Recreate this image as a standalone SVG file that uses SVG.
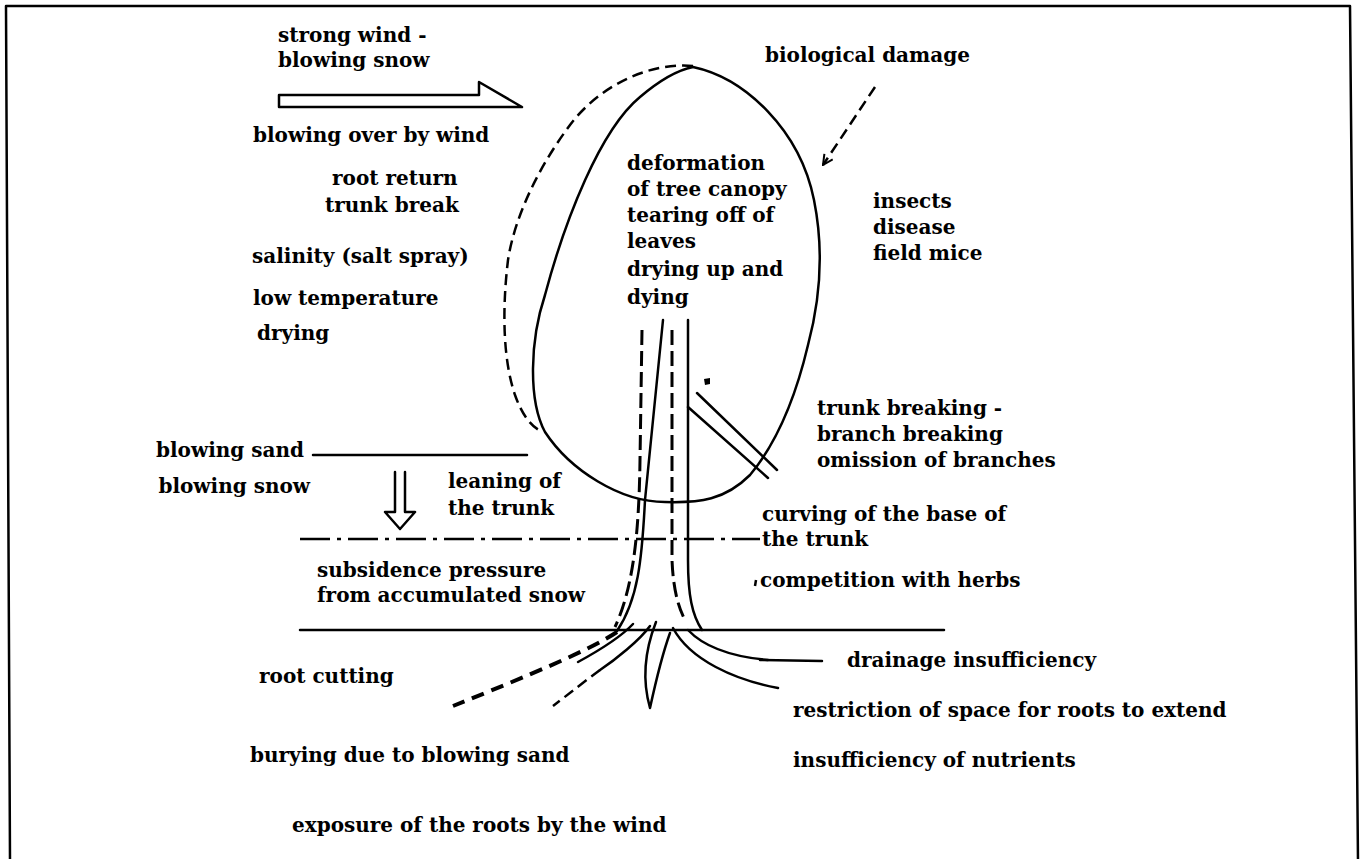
<svg xmlns="http://www.w3.org/2000/svg" width="1362" height="859" viewBox="0 0 1362 859">
  <defs>
    <style>
      text { font-family: "DejaVu Serif", "Liberation Serif", serif; font-weight: bold; font-size: 20px; fill: #000; }
      .ln { fill: none; stroke: #000; stroke-width: 2.5; stroke-linecap: round; stroke-linejoin: round; }
      .dash { stroke-dasharray: 11 6; stroke-linecap: butt; }
      .tdash { stroke-dasharray: 15 6; stroke-width: 3; stroke-linecap: butt; }
      .dashdot { stroke-dasharray: 30 7 4 7; stroke-linecap: butt; }
      .rootdash { stroke-dasharray: 13 8; stroke-width: 4; stroke-linecap: butt; }
    </style>
    <marker id="vhead" viewBox="0 0 12 12" refX="11" refY="6" markerWidth="12" markerHeight="12" markerUnits="userSpaceOnUse" orient="auto">
      <path d="M1,1 L11,6 L1,11" fill="none" stroke="#000" stroke-width="2"/>
    </marker>
  </defs>

  <rect width="1362" height="859" fill="#fff"/>

  <!-- frame -->
  <path class="ln" d="M10,862 L6,6 L1350,6 L1358,862" stroke-width="3"/>

  <!-- tree: canopy outlines -->
  <g id="tree">
    <path id="canopy" class="ln" d="M693,67 C745,78 800,130 814,200 C824,250 820,300 808,345 C795,400 775,445 750,475 C725,500 700,503 665,502 C620,502 570,470 545,432 C528,400 530,340 545,295 C565,220 600,130 640,97 C660,80 678,70 693,67 Z"/>
    <path id="canopy-before" class="ln dash" d="M693,66 C650,62 600,85 570,125 C540,165 515,215 508,260 C502,310 503,360 515,395 C522,415 532,428 543,432"/>

    <!-- trunk -->
    <path class="ln tdash" d="M642,330 L640,460 C639,540 632,590 615,627"/>
    <path class="ln" d="M663,320 L645,500 C642,560 638,600 617,631"/>
    <path class="ln tdash" d="M672,330 L672,560 C673,585 677,605 685,620"/>
    <path class="ln" d="M688,320 L688,560 C688,595 692,615 702,630"/>

    <!-- broken branch -->
    <path class="ln" d="M688,407 L768,478"/>
    <path class="ln" d="M697,393 L777,470"/>
    <path d="M704,379 L710,378 L710,384 L705,385 Z" fill="#000"/>

    <!-- roots -->
    <path class="ln rootdash" d="M617,632 C590,650 530,675 453,706"/>
    <path class="ln" d="M633,624 C620,638 600,650 578,662"/>
    <path class="ln" d="M650,626 C640,640 615,660 600,670"/>
    <path class="ln dash" d="M600,670 C585,681 570,693 553,706" stroke-width="3"/>
    <path class="ln" d="M656,622 C645,650 642,680 650,708 C655,685 662,655 670,633"/>
    <path class="ln" d="M673,628 C690,660 735,680 778,688"/>
    <path class="ln" d="M688,630 C705,648 735,657 768,660"/>
  </g>

  <!-- ground and snow levels, arrows -->
  <g id="connectors">
    <path class="ln" d="M300,630 L944,630"/>
    <path class="ln dashdot" d="M300,539 L760,539"/>
    <path class="ln" d="M313,455 L527,455"/>
    <path class="ln" d="M760,660 L822,661" stroke-width="3.5"/>
    <path class="ln" d="M279,95 H479 V82 L522,107 H279 Z"/>
    <path class="ln" d="M395,472 V512 H385 L400,529 L415,512 H405 V472"/>
    <path class="ln dash" d="M875,87 L823,165" stroke-width="1.8" marker-end="url(#vhead)"/>
  </g>

  <g id="wind">
    <text x="278" y="42">strong wind -</text>
    <text x="278" y="67">blowing snow</text>
  </g>
  <g id="wind-damage">
    <text x="253" y="142">blowing over by wind</text>
    <text x="332" y="185">root return</text>
    <text x="325" y="212">trunk break</text>
  </g>
  <g id="climate">
    <text x="252" y="263">salinity (salt spray)</text>
    <text x="253" y="305">low temperature</text>
    <text x="257" y="340">drying</text>
  </g>
  <g id="biological">
    <text x="765" y="62">biological damage</text>
  </g>
  <g id="canopy-damage">
    <text x="627" y="170">deformation</text>
    <text x="627" y="196">of tree canopy</text>
    <text x="627" y="222">tearing off of</text>
    <text x="627" y="248">leaves</text>
    <text x="627" y="276">drying up and</text>
    <text x="627" y="304">dying</text>
  </g>
  <g id="pests">
    <text x="873" y="208">insects</text>
    <text x="873" y="234">disease</text>
    <text x="873" y="260">field mice</text>
  </g>
  <g id="branch-damage">
    <text x="817" y="415">trunk breaking -</text>
    <text x="817" y="441">branch breaking</text>
    <text x="817" y="467">omission of branches</text>
  </g>
  <g id="sand-snow">
    <text x="304" y="457" text-anchor="end">blowing sand</text>
    <text x="310" y="493" text-anchor="end">blowing snow</text>
  </g>
  <g id="leaning">
    <text x="448" y="488">leaning of</text>
    <text x="448" y="515">the trunk</text>
  </g>
  <g id="curving">
    <text x="762" y="521">curving of the base of</text>
    <text x="762" y="546">the trunk</text>
  </g>
  <g id="subsidence">
    <text x="317" y="577">subsidence pressure</text>
    <text x="317" y="602">from accumulated snow</text>
  </g>
  <g id="competition">
    <path d="M756,580 L755,586" stroke="#000" stroke-width="2.5"/>
    <text x="760" y="587">competition with herbs</text>
  </g>
  <g id="drainage">
    <text x="847" y="667">drainage insufficiency</text>
  </g>
  <g id="root-cutting">
    <text x="259" y="683">root cutting</text>
  </g>
  <g id="restriction">
    <text x="793" y="717">restriction of space for roots to extend</text>
  </g>
  <g id="burying">
    <text x="250" y="762">burying due to blowing sand</text>
  </g>
  <g id="nutrients">
    <text x="793" y="767">insufficiency of nutrients</text>
  </g>
  <g id="exposure">
    <text x="292" y="832">exposure of the roots by the wind</text>
  </g>
</svg>
